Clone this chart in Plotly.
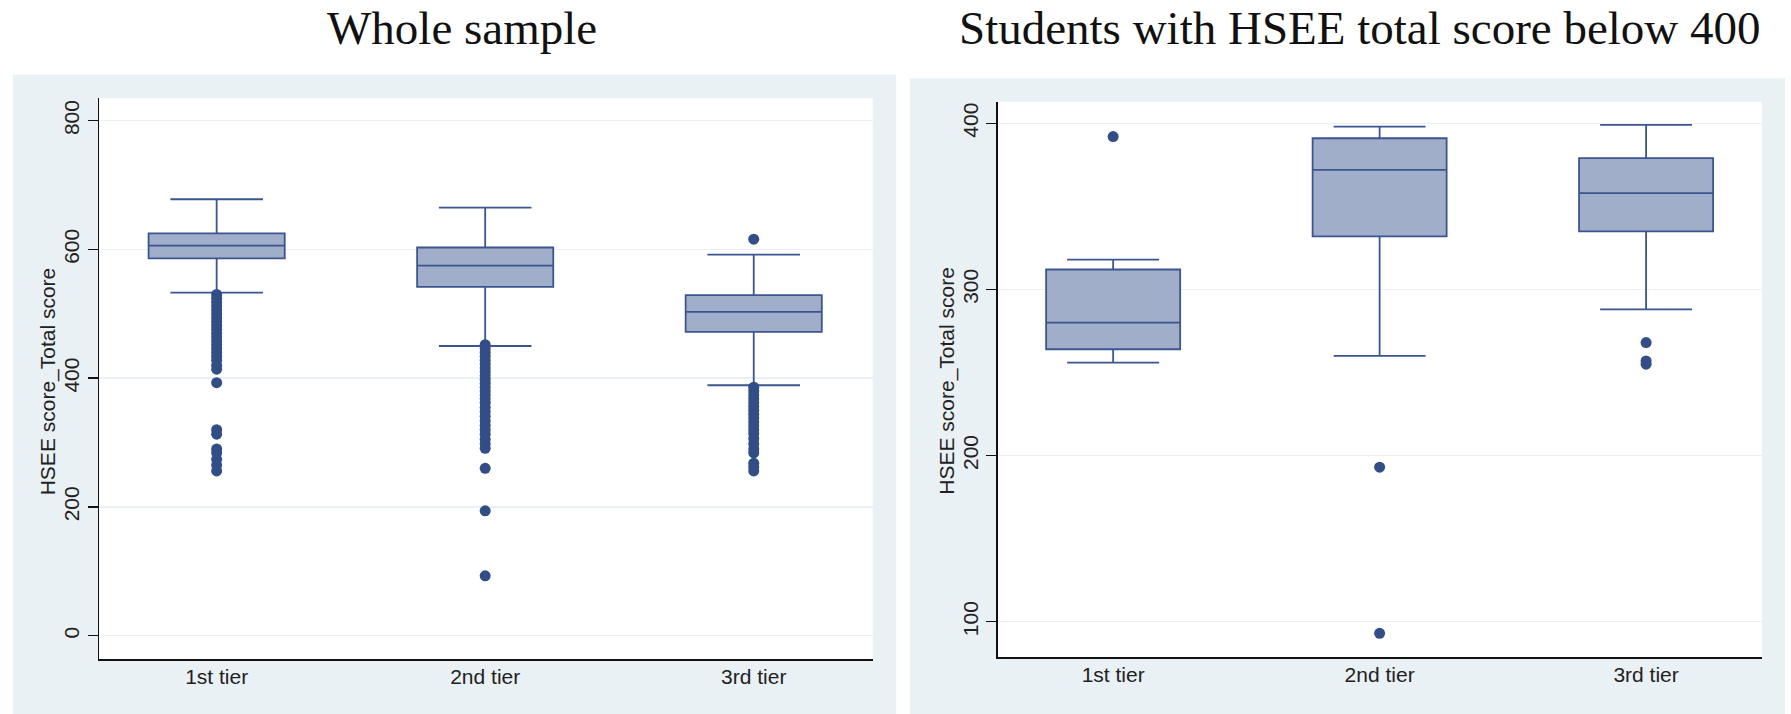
import plotly.graph_objects as go

W, H = 1791, 714

tiers = ["1st tier", "2nd tier", "3rd tier"]
tier_pos = [0, 1, 2]

# ---- Whole sample: box statistics ----
whole_lower = [533, 450, 389]
whole_q1 = [586, 542, 472]
whole_median = [606, 575, 503]
whole_q3 = [625, 603, 529]
whole_upper = [678, 665, 592]

# ---- Whole sample: outliers ----
whole_out_1st = [530, 524, 518, 512, 506, 500, 494, 488, 482, 476, 470, 464,
                 458, 452, 446, 440, 434, 428, 420, 414, 393,
                 320, 313, 290, 284, 274, 265, 256]
whole_out_2nd = [452, 446, 440, 434, 428, 422, 416, 410, 404, 398, 392, 386,
                 380, 374, 368, 362, 355, 348, 341, 334, 327, 320, 313, 305,
                 298, 291, 260, 194, 93]
whole_out_3rd = [616, 386, 380, 374, 368, 362, 356, 350, 344, 338, 332, 326,
                 320, 314, 306, 298, 290, 284, 268, 262, 256]

# ---- Students below 400: box statistics ----
low_lower = [256, 260, 288]
low_q1 = [264, 332, 335]
low_median = [280, 372, 358]
low_q3 = [312, 391, 379]
low_upper = [318, 398, 399]

# ---- Students below 400: outliers ----
low_out_1st = [392]
low_out_2nd = [193, 93]
low_out_3rd = [268, 257, 255]

titles = ["Whole sample", "Students with HSEE total score below 400"]
y_title = "HSEE score_Total score"
whole_ticks = [0, 200, 400, 600, 800]
low_ticks = [100, 200, 300, 400]

BOX_FILL = "#A1AEC9"
BOX_LINE = "#3B5590"
DOT = "#324E88"
PANEL = "#EAF1F4"
GRID = "#EAF0F3"
AXIS = "#111111"
TICKFONT = dict(family="Liberation Sans, Arial, sans-serif", size=21, color="#222222")


def px_x(p):
    return p / W


def px_y(p):
    return 1 - p / H


fig = go.Figure()

# Left panel boxes
fig.add_trace(go.Box(
    x=tier_pos, q1=whole_q1, median=whole_median, q3=whole_q3,
    lowerfence=whole_lower, upperfence=whole_upper,
    width=0.507, whiskerwidth=0.68, boxpoints=False,
    fillcolor=BOX_FILL, line=dict(color=BOX_LINE, width=1.8),
    xaxis="x", yaxis="y", hoverinfo="skip"))
for pos, vals in zip(tier_pos, [whole_out_1st, whole_out_2nd, whole_out_3rd]):
    fig.add_trace(go.Scatter(
        x=[pos] * len(vals), y=vals, mode="markers",
        marker=dict(size=11, color=DOT, line=dict(width=0)),
        xaxis="x", yaxis="y", hoverinfo="skip"))

# Right panel boxes
fig.add_trace(go.Box(
    x=tier_pos, q1=low_q1, median=low_median, q3=low_q3,
    lowerfence=low_lower, upperfence=low_upper,
    width=0.503, whiskerwidth=0.686, boxpoints=False,
    fillcolor=BOX_FILL, line=dict(color=BOX_LINE, width=1.8),
    xaxis="x2", yaxis="y2", hoverinfo="skip"))
for pos, vals in zip(tier_pos, [low_out_1st, low_out_2nd, low_out_3rd]):
    fig.add_trace(go.Scatter(
        x=[pos] * len(vals), y=vals, mode="markers",
        marker=dict(size=11, color=DOT, line=dict(width=0)),
        xaxis="x2", yaxis="y2", hoverinfo="skip"))

# Panel layout (pixels)
L = dict(x0=99.3, x1=872.7, y0=98.3, y1=659.3)
R = dict(x0=997.5, x1=1762.0, y0=101.7, y1=657.3)

xaxis_common = dict(
    tickvals=tier_pos, ticktext=tiers, showline=True, linecolor=AXIS, linewidth=1.5,
    ticks="", showgrid=False, zeroline=False, tickfont=TICKFONT, fixedrange=True,
    ticklabelstandoff=-2)
yaxis_common = dict(
    tickangle=-90, ticks="outside", ticklen=10, tickwidth=1.5, tickcolor=AXIS,
    showline=True, linecolor=AXIS, linewidth=1.5, showgrid=True, gridcolor=GRID,
    gridwidth=1.5, zeroline=False, tickfont=TICKFONT, fixedrange=True)

fig.update_layout(
    width=W, height=H, autosize=False,
    margin=dict(l=0, r=0, t=0, b=0, pad=0),
    paper_bgcolor="white", plot_bgcolor="rgba(0,0,0,0)",
    showlegend=False,
    xaxis=dict(domain=[px_x(L["x0"]), px_x(L["x1"])], range=[-0.437, 2.443],
               anchor="y", **xaxis_common),
    yaxis=dict(domain=[px_y(L["y1"]), px_y(L["y0"])], range=[-36.7, 834.8],
               tickvals=whole_ticks, anchor="x", **yaxis_common),
    xaxis2=dict(domain=[px_x(R["x0"]), px_x(R["x1"])], range=[-0.434, 2.435],
                anchor="y2", **xaxis_common),
    yaxis2=dict(domain=[px_y(R["y1"]), px_y(R["y0"])], range=[78.6, 413],
                tickvals=low_ticks, anchor="x2", **yaxis_common),
)

shapes = [
    dict(type="rect", xref="paper", yref="paper", layer="below",
         x0=px_x(12.7), x1=px_x(896), y0=0, y1=px_y(74.7),
         fillcolor=PANEL, line=dict(width=0)),
    dict(type="rect", xref="paper", yref="paper", layer="below",
         x0=px_x(910), x1=px_x(1785), y0=0, y1=px_y(78.3),
         fillcolor=PANEL, line=dict(width=0)),
    dict(type="rect", xref="paper", yref="paper", layer="below",
         x0=px_x(L["x0"]), x1=px_x(L["x1"]), y0=px_y(L["y1"]), y1=px_y(L["y0"]),
         fillcolor="white", line=dict(width=0)),
    dict(type="rect", xref="paper", yref="paper", layer="below",
         x0=px_x(R["x0"]), x1=px_x(R["x1"]), y0=px_y(R["y1"]), y1=px_y(R["y0"]),
         fillcolor="white", line=dict(width=0)),
]
fig.update_layout(shapes=shapes)

TITLEFONT = dict(family="Liberation Serif, Times New Roman, serif", size=47, color="#111111")
annotations = [
    dict(text=titles[0], x=px_x(462), y=px_y(28), xref="paper", yref="paper",
         xanchor="center", yanchor="middle", showarrow=False, font=TITLEFONT),
    dict(text=titles[1], x=px_x(1360), y=px_y(28), xref="paper", yref="paper",
         xanchor="center", yanchor="middle", showarrow=False, font=TITLEFONT),
    dict(text=y_title, x=px_x(48.3), y=px_y(381), xref="paper", yref="paper",
         xanchor="center", yanchor="middle", textangle=-90, showarrow=False,
         font=TICKFONT),
    dict(text=y_title, x=px_x(946.7), y=px_y(381), xref="paper", yref="paper",
         xanchor="center", yanchor="middle", textangle=-90, showarrow=False,
         font=TICKFONT),
]
fig.update_layout(annotations=annotations)

fig.write_html(
    "out.html",
    config=dict(displayModeBar=False, staticPlot=True),
    post_script="document.body.style.margin='0';document.body.style.padding='0';"
                "document.body.style.overflow='hidden';",
)
